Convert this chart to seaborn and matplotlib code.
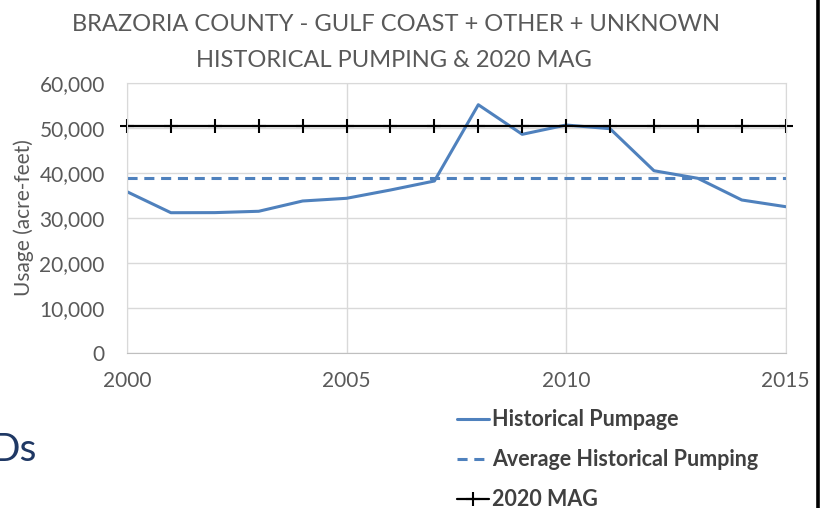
import numpy as np
import pandas as pd
import seaborn as sns
import matplotlib.pyplot as plt
from matplotlib.lines import Line2D
from matplotlib.ticker import FuncFormatter

years = list(range(2000, 2016))
pumpage = [35860, 31180, 31200, 31500, 33790, 34390, 36240, 38240,
           55230, 48640, 50710, 49890, 40530, 38840, 34010, 32520]
avg_pumping = [38900] * 16
mag_2020 = [50420] * 16

df = pd.DataFrame({"Year": years, "Historical Pumpage": pumpage,
                   "Average Historical Pumping": avg_pumping, "2020 MAG": mag_2020})

sns.set_style("white")
plt.rcParams['font.family'] = ['Lato', 'DejaVu Sans']

blue = "#4f81bd"
grey = "#595959"
dash = (0, (3.3, 2.2))

fig = plt.figure(figsize=(8.23, 5.08), dpi=100)
ax = fig.add_axes([0.1543, 0.3057, 0.8004, 0.5303])

sns.lineplot(data=df, x="Year", y="Historical Pumpage", ax=ax, color=blue, linewidth=2.2)
sns.lineplot(data=df, x="Year", y="Average Historical Pumping", ax=ax, color=blue,
             linewidth=2.2, linestyle=dash)
sns.lineplot(data=df, x="Year", y="2020 MAG", ax=ax, color="black", linewidth=1.6,
             marker="+", markersize=10, markeredgewidth=1.5, markeredgecolor="black",
             clip_on=False)

ax.set_xlim(2000, 2015)
ax.set_ylim(0, 60000)
ax.set_xticks([2000, 2005, 2010, 2015])
ax.set_yticks(range(0, 60001, 10000))
ax.yaxis.set_major_formatter(FuncFormatter(lambda v, p: f"{int(v):,}"))
ax.grid(True, color="#d9d9d9", linewidth=1)
ax.set_axisbelow(True)
for side in ["top", "right", "left"]:
    ax.spines[side].set_color("#d9d9d9")
ax.spines["bottom"].set_color("#bfbfbf")
ax.tick_params(axis="both", length=0, labelsize=15, labelcolor=grey)
ax.tick_params(axis="y", pad=16)
ax.tick_params(axis="x", pad=13)
ax.set_xlabel("")
ax.set_ylabel("Usage (acre-feet)", fontsize=15, color=grey, labelpad=4)

fig.text(0.481, 0.952, "BRAZORIA COUNTY - GULF COAST + OTHER + UNKNOWN",
         ha="center", va="center", fontsize=17, color=grey)
fig.text(0.479, 0.88, "HISTORICAL PUMPING & 2020 MAG",
         ha="center", va="center", fontsize=17, color=grey)

handles = [
    Line2D([], [], color=blue, linewidth=2.2),
    Line2D([], [], color=blue, linewidth=2.2, linestyle=dash),
    Line2D([], [], color="black", linewidth=1.6, marker="+", markersize=10, markeredgewidth=1.5),
]
labels = ["Historical Pumpage", "Average Historical Pumping", "2020 MAG"]
leg = fig.legend(handles, labels, loc="upper left", bbox_to_anchor=(0.545, 0.211),
                 frameon=False, handlelength=1.5, handletextpad=0.12, labelspacing=0.88,
                 prop={"weight": "bold", "size": 15.5}, borderaxespad=0)
for t in leg.get_texts():
    t.set_color("#404040")

fig.text(-0.012, 0.115, "Ds", fontsize=28, color="#1f3864", ha="left", va="center")
fig.add_artist(Line2D([0.9945, 0.9945], [0, 1], color="black", linewidth=2.6,
                      transform=fig.transFigure))

fig.savefig("out.png", dpi=100)
